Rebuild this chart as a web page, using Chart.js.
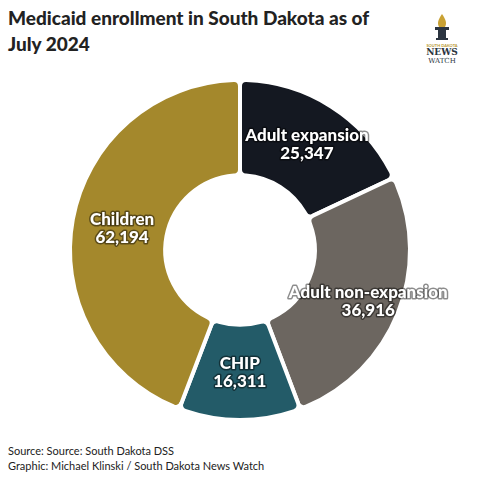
<!DOCTYPE html><html><head><meta charset="utf-8">
<script src="https://cdn.jsdelivr.net/npm/chart.js@4"></script>
<style>
body{margin:0;background:#fff;font-family:Lato,"Open Sans",sans-serif;}
#wrap{position:relative;width:480px;height:480px;}
h1{position:absolute;left:8px;top:5px;margin:0;font-size:19px;line-height:26px;font-weight:900;color:#222;width:385px;}
#logo{position:absolute;left:418px;top:14px;width:48px;text-align:center;}
#src{position:absolute;left:8px;top:443px;font-size:11px;line-height:15px;color:#222;}
#cv{position:absolute;left:0;top:74px;}
</style></head><body><div id="wrap">
<h1>Medicaid enrollment in South Dakota as of July 2024</h1>
<div id="logo">
<svg width="20" height="26" viewBox="0 0 20 26"><path d="M10 0 C6 6 5 9 7 13 L13 13 C15 9 14 6 10 0Z" fill="#c9a133"/><rect x="3" y="13" width="14" height="3" fill="#2b3440"/><rect x="6" y="16" width="8" height="8" fill="#2b3440"/><rect x="4" y="24" width="12" height="2" fill="#2b3440"/></svg>
<div style="font-size:4px;color:#b8962e;font-weight:700;line-height:5px">SOUTH DAKOTA</div>
<div style="font-family:'DejaVu Serif',serif;font-size:9px;line-height:9px;font-weight:700;color:#2b3440">NEWS</div>
<div style="font-family:'DejaVu Serif',serif;font-size:7px;line-height:8px;color:#2b3440">WATCH</div>
</div>
<canvas id="cv" width="480" height="352"></canvas>
<div id="src">Source: Source: South Dakota DSS<br>Graphic: Michael Klinski / South Dakota News Watch</div>
</div>
<script>
const categories=["Adult expansion","Adult non-expansion","CHIP","Children"];
const values=[25347,36916,16311,62194];
const labelText=["25,347","36,916","16,311","62,194"];
const colors=["#141821","#6c6660","#235b68","#a4882c"];
const labelPlugin={id:'lbl',afterDatasetsDraw(chart){
 const ctx=chart.ctx;const meta=chart.getDatasetMeta(0);
 const radF=[1.02,1.13,1.0,0.98];
 meta.data.forEach((arc,i)=>{
  const a=(arc.startAngle+arc.endAngle)/2;
  const rr=(arc.innerRadius+arc.outerRadius)/2*radF[i];
  const x=arc.x+Math.cos(a)*rr,y=arc.y+Math.sin(a)*rr;
  ctx.save();ctx.font="900 17px Lato";ctx.textAlign="center";ctx.textBaseline="middle";
  ctx.lineWidth=3;ctx.strokeStyle="rgba(0,0,0,0.45)";ctx.lineJoin="round";ctx.fillStyle="#fff";
  [categories[i],labelText[i]].forEach((t,k)=>{const yy=y-9+k*18;ctx.strokeText(t,x,yy);ctx.fillText(t,x,yy);});
  ctx.restore();});
}};
new Chart(document.getElementById('cv'),{type:'doughnut',
 data:{labels:categories,datasets:[{data:values,backgroundColor:colors,borderColor:"#fff",borderWidth:4,borderRadius:6}]},
 options:{responsive:false,animation:false,cutout:'44%',layout:{padding:{top:4,bottom:4}},
  plugins:{legend:{display:false},tooltip:{enabled:false}}},
 plugins:[labelPlugin]});
</script></body></html>
